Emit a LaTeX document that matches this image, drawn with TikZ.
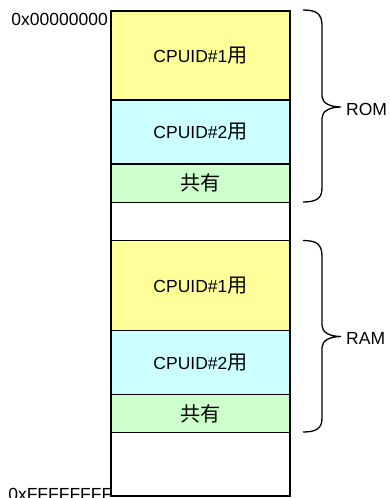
\documentclass[tikz,border=0pt]{standalone}
\usepackage{fontspec}
\setmainfont{Liberation Sans}
\newfontfamily\cjk[Scale=1.15]{Noto Sans CJK JP}
\definecolor{ylw}{HTML}{FFFF99}
\definecolor{cyn}{HTML}{CCFFFF}
\definecolor{grn}{HTML}{CCFFCC}
\begin{document}
\begin{tikzpicture}[x=1pt,y=-1pt,
  seg/.style={draw=black, line width=1.2pt, inner sep=0pt, outer sep=0pt,
    minimum width=179pt, anchor=north west, font=\fontsize{17.5}{20}\selectfont},
  lbl/.style={inner sep=0pt, font=\fontsize{17.5}{20}\selectfont},
  bracepath/.style={draw=black, line width=1.3pt}]
\useasboundingbox (0,0) rectangle (389,498);
\node[seg, fill=ylw, minimum height=89pt] (r1) at (111,11) {CPUID\#1{\cjk 用}};
\node[seg, fill=cyn, minimum height=64pt] (r2) at (r1.south west) {CPUID\#2{\cjk 用}};
\node[seg, fill=grn, minimum height=38.5pt] (r3) at (r2.south west) {{\cjk 共有}};
\node[seg, fill=white, minimum height=38pt] (r4) at (r3.south west) {};
\node[seg, fill=ylw, minimum height=90pt] (r5) at (r4.south west) {CPUID\#1{\cjk 用}};
\node[seg, fill=cyn, minimum height=64pt] (r6) at (r5.south west) {CPUID\#2{\cjk 用}};
\node[seg, fill=grn, minimum height=38pt] (r7) at (r6.south west) {{\cjk 共有}};
\node[seg, fill=white, minimum height=63.5pt] (r8) at (r7.south west) {};
% address labels
\node[lbl, anchor=base east] (a0) at (108,25.5) {0x00000000};
\node[lbl, anchor=base east] (a1) at (112.5,500) {0xFFFFFFFF};
% ROM brace
\coordinate (romtop) at (303,10);
\coordinate (romtip) at (341,107);
\coordinate (rombot) at (303,202);
\draw[bracepath] (romtop) .. controls (317,10) and (322,14) .. (322,26)
  -- (322,96) .. controls (322,103) and (330,107) .. (romtip)
  .. controls (330,107) and (322,111) .. (322,118)
  -- (322,188) .. controls (322,198) and (317,202) .. (rombot);
\node[lbl, anchor=west] (rom) at (346,109) {ROM};
% RAM brace
\coordinate (ramtop) at (303,240.5);
\coordinate (ramtip) at (341,336.5);
\coordinate (rambot) at (303,432);
\draw[bracepath] (ramtop) .. controls (317,240.5) and (322,244.5) .. (322,256.5)
  -- (322,325.5) .. controls (322,332.5) and (330,336.5) .. (ramtip)
  .. controls (330,336.5) and (322,340.5) .. (322,347.5)
  -- (322,418) .. controls (322,428) and (317,432) .. (rambot);
\node[lbl, anchor=west] (ram) at (346,338.5) {RAM};
\end{tikzpicture}
\end{document}
